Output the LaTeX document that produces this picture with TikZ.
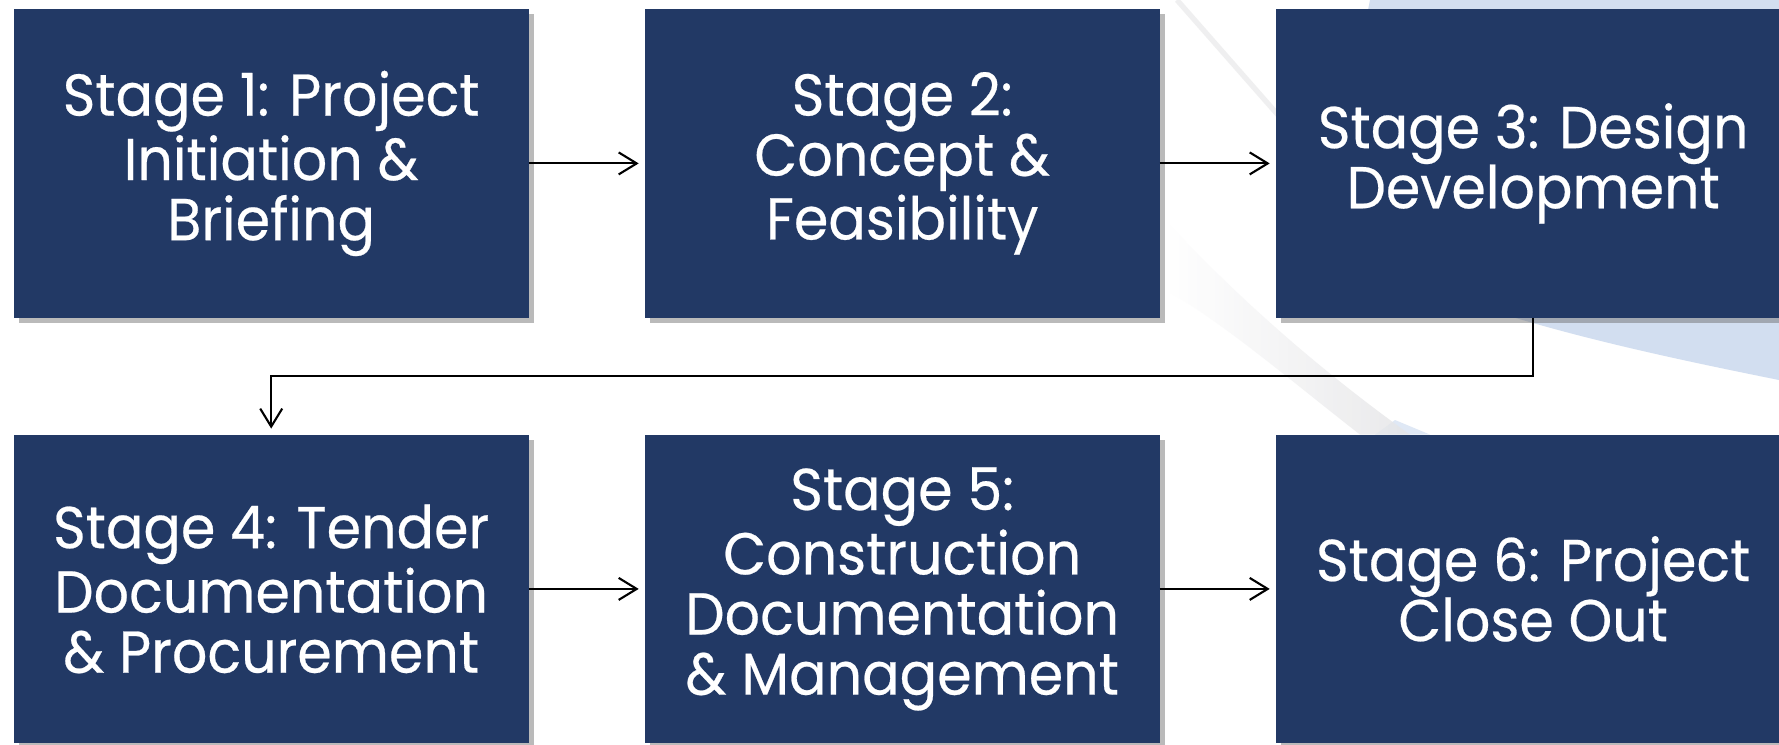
\documentclass[tikz,border=0pt]{standalone}
\usepackage{fontspec}
\setmainfont{Poppins}[FakeStretch=0.94,FakeBold=0.4]
\usepackage{tikz}
\usetikzlibrary{arrows.meta,positioning,shadows,calc}

\definecolor{navy}{RGB}{34,57,101}
\definecolor{bgblue}{RGB}{210,222,240}
\definecolor{bggrey}{RGB}{228,228,230}

\tikzset{
  stagebox/.style={rectangle, fill=navy, text=white, align=center,
    minimum width=5.15cm, minimum height=3.086cm, inner sep=0pt, outer sep=0pt,
    font=\fontsize{16.8}{17.1}\selectfont,
    drop shadow={shadow xshift=0.05cm, shadow yshift=-0.05cm, fill=black!60, opacity=0.45}},
  flowarrow/.style={draw=black, line width=0.6pt,
    -{Straight Barb[length=0.18cm,width=0.22cm,line width=0.6pt]}, shorten >=0.06cm}
}

\begin{document}
\begin{tikzpicture}[node distance=1.16cm]
  %page and background
    \useasboundingbox (0,0) rectangle (17.79,-7.44);
    \clip (0,0) rectangle (17.79,-7.44);
    \fill[white] (0,0) rectangle (17.79,-7.44);
    \fill[bgblue] (13.7,0) -- (17.79,0) -- (17.79,-3.8)
       .. controls (16.8,-3.6) and (15.6,-3.35) .. (14.6,-3.0) -- (13.5,-1) -- cycle;
    \fill[bgblue!70] (13.75,-4.346) -- (13.95,-4.20) -- (14.3,-4.346) -- cycle;
    \shade[left color=white, right color=bggrey, opacity=0.8]
       (11.65,-2.2) .. controls (12.4,-3.0) and (13.2,-3.7) .. (14.1,-4.346)
       -- (13.6,-4.346) .. controls (12.9,-3.8) and (12.2,-3.2) .. (11.65,-2.9) -- cycle;
    \draw[bggrey!90!black!60, line width=1.5pt, opacity=0.5] (11.77,0) -- (12.78,-1.15);
  %draw stages
    \node[stagebox] (s1) at (2.712,-1.634) {Stage 1: Project\\Initiation \&\\Briefing};
    \node[stagebox, right=of s1] (s2) {Stage 2:\\Concept \&\\Feasibility};
    \node[stagebox, right=of s2] (s3) {Stage 3: Design\\Development};
    \node[stagebox, below=1.169cm of s1] (s4) {Stage 4: Tender\\Documentation\\\& Procurement};
    \node[stagebox, right=of s4] (s5) {Stage 5:\\Construction\\Documentation\\\& Management};
    \node[stagebox, right=of s5] (s6) {Stage 6: Project\\Close Out};
  %draw connectors
    \coordinate (turn) at ($(s1.south)!0.5!(s4.north)$);
    \draw[flowarrow] (s1) -- (s2);
    \draw[flowarrow] (s2) -- (s3);
    \draw[flowarrow] (s3.south) -- (s3.south |- turn) -| (s4.north);
    \draw[flowarrow] (s4) -- (s5);
    \draw[flowarrow] (s5) -- (s6);
\end{tikzpicture}
\end{document}
